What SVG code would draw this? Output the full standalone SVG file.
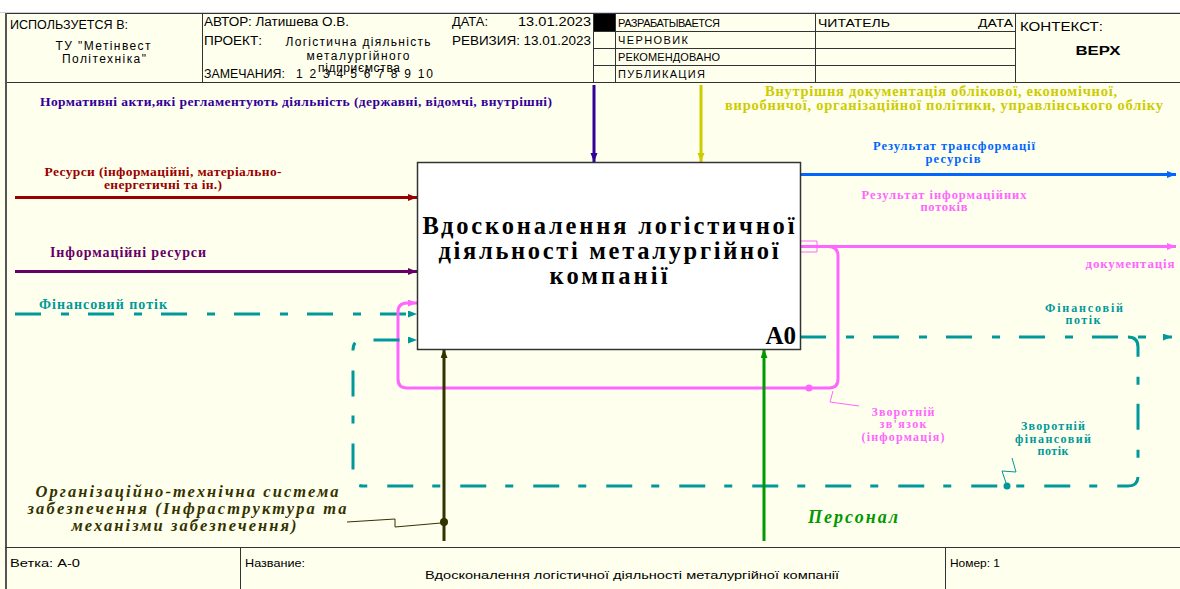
<svg xmlns="http://www.w3.org/2000/svg" width="1180" height="589" viewBox="0 0 1180 589">
<style>
.hd{font-family:"Liberation Sans",Arial,sans-serif;fill:#000}
.lb{font-family:"Liberation Serif","Times New Roman",serif;font-weight:bold}
.it{font-family:"Liberation Serif","Times New Roman",serif;font-weight:bold;font-style:italic}
.grid{stroke:#333;stroke-width:1;fill:none}
.ln{fill:none;stroke-width:3}
.dash{stroke-dasharray:26 20 8 19}
.thin{fill:none;stroke-width:1}
</style>
<defs>
<marker id="mIndigo" markerUnits="userSpaceOnUse" markerWidth="10" markerHeight="8" refX="9" refY="3.5" orient="auto"><path d="M0,0 L9,3.5 L0,7 z" fill="#330099"/></marker>
<marker id="mYellow" markerUnits="userSpaceOnUse" markerWidth="10" markerHeight="8" refX="9" refY="3.5" orient="auto"><path d="M0,0 L9,3.5 L0,7 z" fill="#cccc00"/></marker>
<marker id="mRed" markerUnits="userSpaceOnUse" markerWidth="10" markerHeight="8" refX="9" refY="3.5" orient="auto"><path d="M0,0 L9,3.5 L0,7 z" fill="#990000"/></marker>
<marker id="mPurple" markerUnits="userSpaceOnUse" markerWidth="10" markerHeight="8" refX="9" refY="3.5" orient="auto"><path d="M0,0 L9,3.5 L0,7 z" fill="#660066"/></marker>
<marker id="mTeal" markerUnits="userSpaceOnUse" markerWidth="10" markerHeight="8" refX="9" refY="3.5" orient="auto"><path d="M0,0 L9,3.5 L0,7 z" fill="#009999"/></marker>
<marker id="mBlue" markerUnits="userSpaceOnUse" markerWidth="10" markerHeight="8" refX="9" refY="3.5" orient="auto"><path d="M0,0 L9,3.5 L0,7 z" fill="#0066ff"/></marker>
<marker id="mPink" markerUnits="userSpaceOnUse" markerWidth="10" markerHeight="8" refX="9" refY="3.5" orient="auto"><path d="M0,0 L9,3.5 L0,7 z" fill="#ff66ff"/></marker>
<marker id="mOlive" markerUnits="userSpaceOnUse" markerWidth="10" markerHeight="8" refX="9" refY="3.5" orient="auto"><path d="M0,0 L9,3.5 L0,7 z" fill="#333300"/></marker>
<marker id="mGreen" markerUnits="userSpaceOnUse" markerWidth="10" markerHeight="8" refX="9" refY="3.5" orient="auto"><path d="M0,0 L9,3.5 L0,7 z" fill="#009900"/></marker>
</defs>

<rect x="0" y="0" width="1180" height="589" fill="#ffffee"/>
<rect x="0" y="0" width="1180" height="12" fill="#ffffff"/>
<line x1="0" y1="12.5" x2="1180" y2="12.5" stroke="#c8d0dc" stroke-width="1"/>

<g id="header" font-size="12">
<rect x="5.5" y="13.5" width="1180" height="69" fill="#ffffee" stroke="#333" stroke-width="1"/>
<line class="grid" x1="202.5" y1="13" x2="202.5" y2="83"/>
<line class="grid" x1="593.5" y1="13" x2="593.5" y2="83"/>
<line class="grid" x1="615.5" y1="13" x2="615.5" y2="83"/>
<line class="grid" x1="815.5" y1="13" x2="815.5" y2="83"/>
<line class="grid" x1="1015.5" y1="13" x2="1015.5" y2="83"/>
<line class="grid" x1="593" y1="31.5" x2="1015" y2="31.5"/>
<line class="grid" x1="593" y1="48.5" x2="1015" y2="48.5"/>
<line class="grid" x1="593" y1="65.5" x2="1015" y2="65.5"/>
<rect x="594" y="14" width="21" height="17" fill="#000"/>
<text class="hd" x="10" y="29" textLength="118" lengthAdjust="spacingAndGlyphs">ИСПОЛЬЗУЕТСЯ В:</text>
<text class="hd" x="103" y="50" text-anchor="middle" textLength="95" lengthAdjust="spacing">ТУ "Метінвест</text>
<text class="hd" x="104" y="63" text-anchor="middle" textLength="84" lengthAdjust="spacing">Політехніка"</text>
<text class="hd" x="204" y="26" textLength="145" lengthAdjust="spacingAndGlyphs">АВТОР: Латишева О.В.</text>
<text class="hd" x="452" y="26" textLength="36" lengthAdjust="spacingAndGlyphs">ДАТА:</text>
<text class="hd" x="518" y="26" textLength="73" lengthAdjust="spacingAndGlyphs">13.01.2023</text>
<text class="hd" x="204" y="45" textLength="58" lengthAdjust="spacingAndGlyphs">ПРОЕКТ:</text>
<text class="hd" x="358" y="46" text-anchor="middle" textLength="145" lengthAdjust="spacing">Логістична діяльність</text>
<text class="hd" x="358" y="60" text-anchor="middle" textLength="103" lengthAdjust="spacing">металургійного</text>
<text class="hd" x="359" y="72" text-anchor="middle" textLength="82" lengthAdjust="spacing">підприємства</text>
<text class="hd" x="452" y="45" textLength="139" lengthAdjust="spacingAndGlyphs">РЕВИЗИЯ: 13.01.2023</text>
<text class="hd" x="204" y="78" textLength="81" lengthAdjust="spacingAndGlyphs">ЗАМЕЧАНИЯ:</text>
<text class="hd" x="296" y="78" textLength="137" lengthAdjust="spacing">1 2 3 4 5 6 7 8 9 10</text>
<text class="hd" x="618" y="27" font-size="11" textLength="102" lengthAdjust="spacing">РАЗРАБАТЫВАЕТСЯ</text>
<text class="hd" x="618" y="44" font-size="11" textLength="70" lengthAdjust="spacing">ЧЕРНОВИК</text>
<text class="hd" x="618" y="61" font-size="11" textLength="102" lengthAdjust="spacing">РЕКОМЕНДОВАНО</text>
<text class="hd" x="618" y="78" font-size="11" textLength="87" lengthAdjust="spacing">ПУБЛИКАЦИЯ</text>
<text class="hd" x="818" y="27" font-size="11.5" textLength="72" lengthAdjust="spacingAndGlyphs">ЧИТАТЕЛЬ</text>
<text class="hd" x="978" y="27" font-size="11.5" textLength="35" lengthAdjust="spacingAndGlyphs">ДАТА</text>
<text class="hd" x="1020" y="31" font-size="12.5" textLength="83" lengthAdjust="spacingAndGlyphs">КОНТЕКСТ:</text>
<text class="hd" x="1098" y="55" text-anchor="middle" font-size="13.5" font-weight="bold" textLength="45" lengthAdjust="spacingAndGlyphs">ВЕРХ</text>
</g>

<line x1="6" y1="13" x2="6" y2="589" stroke="#555" stroke-width="2"/>

<g id="footer" font-size="11">
<line class="grid" x1="5" y1="547.5" x2="1180" y2="547.5"/>
<line class="grid" x1="240.5" y1="547" x2="240.5" y2="589"/>
<line class="grid" x1="945.5" y1="547" x2="945.5" y2="589"/>
<text class="hd" x="10" y="567" textLength="70" lengthAdjust="spacingAndGlyphs">Ветка: А-0</text>
<text class="hd" x="245" y="567" textLength="60" lengthAdjust="spacingAndGlyphs">Название:</text>
<text class="hd" x="425" y="579" textLength="414" lengthAdjust="spacingAndGlyphs">Вдосконалення логістичної діяльності металургійної компанії</text>
<text class="hd" x="950" y="567" textLength="50" lengthAdjust="spacingAndGlyphs">Номер: 1</text>
</g>

<g id="connectors">
<path class="ln" stroke="#330099" d="M594 85 V162" marker-end="url(#mIndigo)"/>
<path class="ln" stroke="#cccc00" d="M701 85 V162" marker-end="url(#mYellow)"/>
<path class="ln" stroke="#990000" d="M15 197.5 H417" marker-end="url(#mRed)"/>
<path class="ln" stroke="#660066" d="M15 271.5 H417" marker-end="url(#mPurple)"/>
<path class="ln dash" stroke="#009999" d="M15 314 H417" marker-end="url(#mTeal)"/>
<path class="ln" stroke="#0066ff" d="M800 174.5 H1176" marker-end="url(#mBlue)"/>
<path class="ln" stroke="#ff66ff" d="M800 246.5 H1176" marker-end="url(#mPink)"/>
<path class="thin" stroke="#ff66ff" d="M800 241 H817 V252 H800"/>
<path class="ln" stroke="#ff66ff" d="M828 246.5 Q838 246.5 838 256 V379 Q838 388 829 388 H407 Q398 388 398 379 V312 Q398 303 407 303 H417" marker-end="url(#mPink)"/>
<path class="ln dash" stroke="#009999" d="M800 337 H1172" marker-end="url(#mTeal)"/>
<path class="ln dash" stroke="#009999" d="M1128 337 Q1138 337 1138 347 V476 Q1138 486 1128 486 H363 Q353 486 353 476 V350 Q353 340 363 340 H417" marker-end="url(#mTeal)"/>
<path class="ln" stroke="#333300" stroke-width="3.5" d="M444 541 V349" marker-end="url(#mOlive)"/>
<path class="ln" stroke="#009900" d="M764 541 V349" marker-end="url(#mGreen)"/>
<circle cx="809" cy="388" r="3.5" fill="#ff66ff"/>
<circle cx="1007" cy="486" r="3.5" fill="#009999"/>
<circle cx="444" cy="522" r="4" fill="#333300"/>
<path class="thin" stroke="#ff66ff" d="M833 391 L830 402 L859 406"/>
<path class="thin" stroke="#009999" d="M1006 483 L1002 471 L1016 472 L1012 458"/>
<path class="thin" stroke="#333300" d="M347 522 L395 519 L395 527 L441 523"/>
</g>

<g id="labels">
<text class="lb" fill="#330099" font-size="13.5" x="296" y="106" text-anchor="middle" textLength="512" lengthAdjust="spacing">Нормативні акти,які регламентують діяльність (державні, відомчі, внутрішні)</text>
<text class="lb" fill="#cccc00" font-size="14.5" x="941" y="96" text-anchor="middle" textLength="352" lengthAdjust="spacing">Внутрішня документація облікової, економічної,</text>
<text class="lb" fill="#cccc00" font-size="14.5" x="944" y="110" text-anchor="middle" textLength="438" lengthAdjust="spacing">виробничої, організаційної політики, управлінського обліку</text>
<text class="lb" fill="#0066ff" font-size="12.5" x="954" y="150" text-anchor="middle" textLength="162" lengthAdjust="spacing">Результат трансформації</text>
<text class="lb" fill="#0066ff" font-size="12.5" x="953" y="163" text-anchor="middle" textLength="55" lengthAdjust="spacing">ресурсів</text>
<text class="lb" fill="#990000" font-size="13.5" x="163" y="176" text-anchor="middle" textLength="237" lengthAdjust="spacing">Ресурси (інформаційні, матеріально-</text>
<text class="lb" fill="#990000" font-size="13.5" x="163" y="189" text-anchor="middle" textLength="118" lengthAdjust="spacing">енергетичні та ін.)</text>
<text class="lb" fill="#660066" font-size="14" x="128" y="257" text-anchor="middle" textLength="156" lengthAdjust="spacing">Інформаційні ресурси</text>
<text class="lb" fill="#009999" font-size="14" x="103" y="309" text-anchor="middle" textLength="128" lengthAdjust="spacing">Фінансовий потік</text>
<text class="lb" fill="#ff66ff" font-size="12.5" x="944" y="199" text-anchor="middle" textLength="165" lengthAdjust="spacing">Результат інформаційних</text>
<text class="lb" fill="#ff66ff" font-size="12.5" x="944" y="211" text-anchor="middle" textLength="47" lengthAdjust="spacing">потоків</text>
<text class="lb" fill="#ff66ff" font-size="13" x="1130" y="268" text-anchor="middle" textLength="89" lengthAdjust="spacing">документація</text>
<text class="lb" fill="#009999" font-size="12" x="1084" y="312" text-anchor="middle" textLength="78" lengthAdjust="spacing">Фінансовій</text>
<text class="lb" fill="#009999" font-size="12" x="1083" y="324" text-anchor="middle" textLength="35" lengthAdjust="spacing">потік</text>
<text class="lb" fill="#ff66ff" font-size="12" x="903" y="416" text-anchor="middle" textLength="63" lengthAdjust="spacing">Зворотній</text>
<text class="lb" fill="#ff66ff" font-size="12" x="903" y="428" text-anchor="middle" textLength="47" lengthAdjust="spacing">зв'язок</text>
<text class="lb" fill="#ff66ff" font-size="12" x="903" y="441" text-anchor="middle" textLength="83" lengthAdjust="spacing">(інформація)</text>
<text class="lb" fill="#009999" font-size="12" x="1053" y="430" text-anchor="middle" textLength="64" lengthAdjust="spacing">Зворотній</text>
<text class="lb" fill="#009999" font-size="12" x="1053" y="443" text-anchor="middle" textLength="76" lengthAdjust="spacing">фінансовий</text>
<text class="lb" fill="#009999" font-size="12" x="1053" y="455" text-anchor="middle" textLength="31" lengthAdjust="spacing">потік</text>
<text class="it" fill="#333300" font-size="16.5" x="187" y="497" text-anchor="middle" textLength="303" lengthAdjust="spacing">Організаційно-технічна система</text>
<text class="it" fill="#333300" font-size="16.5" x="187" y="514" text-anchor="middle" textLength="319" lengthAdjust="spacing">забезпечення (Інфраструктура та</text>
<text class="it" fill="#333300" font-size="16.5" x="184" y="531" text-anchor="middle" textLength="225" lengthAdjust="spacing">механізми забезпечення)</text>
<text class="it" fill="#009900" font-size="18" x="853" y="523" text-anchor="middle" textLength="90" lengthAdjust="spacing">Персонал</text>
</g>

<g id="A0">
<rect x="417.5" y="162.5" width="383" height="187" fill="#ffffff" stroke="#333" stroke-width="1.5"/>
<text class="lb" font-size="24.5" fill="#000" x="608.5" y="234" text-anchor="middle" textLength="372" lengthAdjust="spacing">Вдосконалення логістичної</text>
<text class="lb" font-size="24.5" fill="#000" x="608.5" y="259" text-anchor="middle" textLength="340" lengthAdjust="spacing">діяльності металургійної</text>
<text class="lb" font-size="24.5" fill="#000" x="608.5" y="284" text-anchor="middle" textLength="118" lengthAdjust="spacing">компанії</text>
<text class="lb" font-size="25" fill="#000" x="796" y="344" text-anchor="end">A0</text>
</g>
</svg>
